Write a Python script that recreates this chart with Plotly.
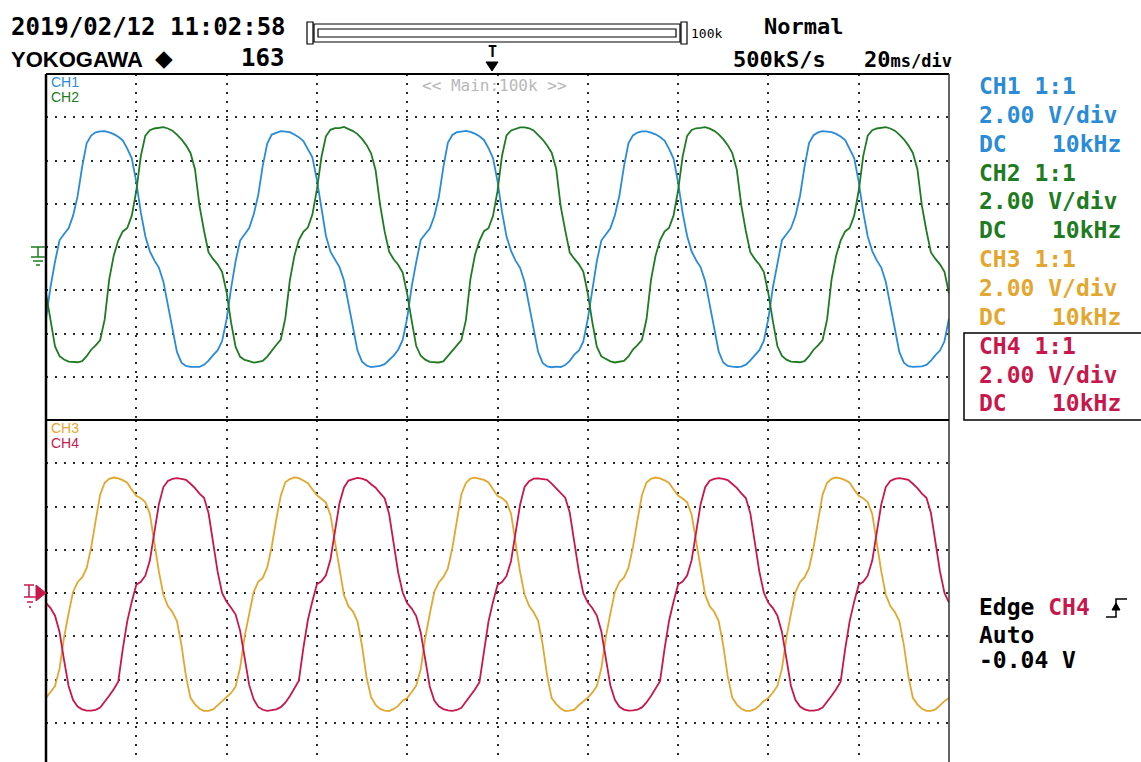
import plotly.graph_objects as go

# sample times, 1 ms steps across 10 div x 20 ms/div
t_ms = list(range(0, 201))

# CH1 (V)
ch1_v = [
    -3.3, -1.85, -0.68, 0.31, 0.6, 0.87, 1.45, 2.35, 3.7, 4.8,
    5.15, 5.3, 5.35, 5.36, 5.3, 5.22, 5.1, 4.93, 4.55, 4.1,
    3.0, 1.6, 0.5, -0.2, -0.62, -0.95, -1.6, -2.7, -3.9, -4.85,
    -5.35, -5.5, -5.54, -5.54, -5.54, -5.45, -5.25, -5.0, -4.78, -4.35,
    -3.35, -1.9, -0.65, 0.3, 0.62, 0.88, 1.5, 2.4, 3.75, 4.78,
    5.2, 5.28, 5.36, 5.34, 5.31, 5.2, 5.08, 4.9, 4.5, 4.15,
    3.1, 1.7, 0.52, -0.22, -0.6, -0.93, -1.55, -2.65, -3.85, -4.8,
    -5.3, -5.48, -5.55, -5.52, -5.5, -5.42, -5.22, -5.02, -4.75, -4.3,
    -3.28, -1.82, -0.7, 0.33, 0.6, 0.85, 1.42, 2.3, 3.68, 4.82,
    5.18, 5.31, 5.34, 5.37, 5.32, 5.24, 5.12, 4.95, 4.57, 4.12,
    3.05, 1.62, 0.48, -0.18, -0.63, -0.96, -1.62, -2.72, -3.92, -4.86,
    -5.36, -5.52, -5.56, -5.53, -5.55, -5.46, -5.27, -4.98, -4.8, -4.38,
    -3.32, -1.88, -0.66, 0.3, 0.61, 0.86, 1.47, 2.38, 3.72, 4.79,
    5.16, 5.29, 5.35, 5.35, 5.29, 5.21, 5.09, 4.92, 4.54, 4.08,
    2.98, 1.58, 0.51, -0.21, -0.61, -0.94, -1.58, -2.68, -3.88, -4.84,
    -5.34, -5.5, -5.53, -5.55, -5.53, -5.44, -5.24, -5.01, -4.77, -4.33,
    -3.31, -1.86, -0.69, 0.32, 0.59, 0.87, 1.44, 2.36, 3.71, 4.81,
    5.17, 5.3, 5.36, 5.35, 5.31, 5.23, 5.11, 4.94, 4.56, 4.11,
    3.02, 1.61, 0.49, -0.19, -0.62, -0.95, -1.61, -2.71, -3.91, -4.85,
    -5.35, -5.51, -5.54, -5.54, -5.52, -5.45, -5.26, -5.0, -4.79, -4.36,
    -3.3,
]

# CH2 (V)
ch2_v = [
    -2.15, -3.45, -4.6, -5.05, -5.2, -5.3, -5.33, -5.33, -5.28, -5.05,
    -4.75, -4.55, -4.3, -3.35, -1.5, -0.4, 0.3, 0.72, 0.88, 1.45,
    2.6, 4.2, 5.15, 5.4, 5.48, 5.52, 5.54, 5.48, 5.38, 5.2,
    4.98, 4.7, 4.35, 3.6, 1.9, 0.75, -0.25, -0.55, -0.8, -1.15,
    -2.1, -3.5, -4.62, -5.08, -5.22, -5.28, -5.35, -5.31, -5.27, -5.07,
    -4.78, -4.53, -4.28, -3.3, -1.55, -0.42, 0.32, 0.7, 0.9, 1.5,
    2.65, 4.15, 5.12, 5.42, 5.5, 5.5, 5.55, 5.46, 5.36, 5.22,
    5.0, 4.72, 4.33, 3.55, 1.95, 0.72, -0.22, -0.57, -0.82, -1.18,
    -2.18, -3.42, -4.58, -5.03, -5.21, -5.31, -5.32, -5.34, -5.29, -5.04,
    -4.76, -4.56, -4.31, -3.38, -1.48, -0.38, 0.28, 0.73, 0.87, 1.43,
    2.58, 4.22, 5.16, 5.39, 5.47, 5.53, 5.53, 5.49, 5.39, 5.19,
    4.97, 4.69, 4.36, 3.62, 1.88, 0.77, -0.26, -0.54, -0.79, -1.14,
    -2.14, -3.47, -4.61, -5.06, -5.19, -5.29, -5.34, -5.32, -5.27, -5.06,
    -4.74, -4.54, -4.29, -3.34, -1.52, -0.41, 0.31, 0.71, 0.89, 1.46,
    2.62, 4.18, 5.14, 5.41, 5.49, 5.51, 5.54, 5.47, 5.37, 5.21,
    4.99, 4.71, 4.34, 3.58, 1.92, 0.74, -0.24, -0.56, -0.81, -1.16,
    -2.16, -3.44, -4.59, -5.04, -5.21, -5.3, -5.33, -5.33, -5.28, -5.05,
    -4.75, -4.55, -4.3, -3.36, -1.49, -0.4, 0.3, 0.72, 0.88, 1.45,
    2.6, 4.2, 5.15, 5.4, 5.48, 5.52, 5.54, 5.48, 5.38, 5.2,
    4.98, 4.7, 4.35, 3.6, 1.9, 0.75, -0.25, -0.55, -0.8, -1.15,
    -2.15,
]

# CH3 (V)
ch3_v = [
    -4.85, -4.6, -4.3, -3.5, -2.05, -0.95, 0.05, 0.5, 0.72, 1.15,
    2.1, 3.35, 4.55, 5.1, 5.28, 5.34, 5.3, 5.22, 5.1, 4.78,
    4.5, 4.38, 4.2, 3.65, 2.3, 1.0, -0.08, -0.6, -0.88, -1.3,
    -2.4, -3.85, -4.85, -5.15, -5.35, -5.45, -5.45, -5.38, -5.2, -5.0,
    -4.82, -4.62, -4.32, -3.45, -2.0, -0.9, 0.04, 0.52, 0.7, 1.18,
    2.15, 3.4, 4.5, 5.12, 5.27, 5.35, 5.31, 5.2, 5.08, 4.8,
    4.52, 4.36, 4.18, 3.6, 2.35, 1.02, -0.1, -0.62, -0.86, -1.32,
    -2.45, -3.9, -4.82, -5.18, -5.36, -5.44, -5.46, -5.36, -5.22, -4.98,
    -4.86, -4.58, -4.28, -3.52, -2.08, -0.97, 0.06, 0.49, 0.73, 1.13,
    2.08, 3.33, 4.57, 5.09, 5.29, 5.33, 5.29, 5.23, 5.11, 4.77,
    4.49, 4.39, 4.21, 3.67, 2.28, 0.98, -0.07, -0.59, -0.89, -1.29,
    -2.38, -3.83, -4.86, -5.14, -5.34, -5.46, -5.44, -5.39, -5.19, -5.01,
    -4.84, -4.61, -4.31, -3.48, -2.03, -0.94, 0.05, 0.51, 0.71, 1.16,
    2.12, 3.37, 4.53, 5.11, 5.28, 5.34, 5.3, 5.21, 5.09, 4.79,
    4.51, 4.37, 4.19, 3.63, 2.32, 1.01, -0.09, -0.61, -0.87, -1.31,
    -2.42, -3.87, -4.84, -5.16, -5.35, -5.45, -5.45, -5.37, -5.21, -4.99,
    -4.85, -4.6, -4.3, -3.5, -2.05, -0.95, 0.05, 0.5, 0.72, 1.15,
    2.1, 3.35, 4.55, 5.1, 5.28, 5.34, 5.3, 5.22, 5.1, 4.78,
    4.5, 4.38, 4.2, 3.65, 2.3, 1.0, -0.08, -0.6, -0.88, -1.3,
    -2.4, -3.85, -4.85, -5.15, -5.35, -5.45, -5.45, -5.38, -5.2, -5.0,
    -4.85,
]

# CH4 (V), trigger source
ch4_v = [
    -0.45, -0.7, -1.05, -1.8, -3.1, -4.3, -4.95, -5.25, -5.38, -5.44,
    -5.44, -5.4, -5.3, -5.05, -4.75, -4.45, -4.1, -2.6, -1.3, -0.4,
    0.38, 0.52, 0.8, 1.5, 2.9, 4.1, 4.9, 5.18, 5.28, 5.31,
    5.28, 5.23, 5.05, 4.85, 4.6, 4.4, 3.7, 2.3, 1.0, 0.0,
    -0.4, -0.68, -1.0, -1.75, -3.05, -4.25, -4.92, -5.27, -5.4, -5.45,
    -5.42, -5.38, -5.28, -5.07, -4.77, -4.43, -4.05, -2.55, -1.25, -0.38,
    0.4, 0.54, 0.82, 1.55, 2.95, 4.15, 4.88, 5.2, 5.27, 5.32,
    5.29, 5.21, 5.03, 4.87, 4.62, 4.38, 3.65, 2.25, 0.95, 0.02,
    -0.47, -0.72, -1.07, -1.83, -3.12, -4.32, -4.97, -5.24, -5.37, -5.43,
    -5.45, -5.41, -5.31, -5.04, -4.74, -4.46, -4.12, -2.62, -1.32, -0.42,
    0.37, 0.51, 0.79, 1.48, 2.88, 4.08, 4.91, 5.17, 5.29, 5.3,
    5.27, 5.24, 5.06, 4.84, 4.59, 4.41, 3.72, 2.32, 1.02, -0.01,
    -0.44, -0.69, -1.04, -1.78, -3.08, -4.28, -4.94, -5.26, -5.39, -5.44,
    -5.43, -5.39, -5.29, -5.06, -4.76, -4.44, -4.08, -2.58, -1.28, -0.39,
    0.39, 0.53, 0.81, 1.52, 2.92, 4.12, 4.89, 5.19, 5.28, 5.31,
    5.28, 5.22, 5.04, 4.86, 4.61, 4.39, 3.68, 2.28, 0.98, 0.01,
    -0.45, -0.7, -1.05, -1.8, -3.1, -4.3, -4.95, -5.25, -5.38, -5.44,
    -5.44, -5.4, -5.3, -5.05, -4.75, -4.45, -4.1, -2.6, -1.3, -0.4,
    0.38, 0.52, 0.8, 1.5, 2.9, 4.1, 4.9, 5.18, 5.28, 5.31,
    5.28, 5.23, 5.05, 4.85, 4.6, 4.4, 3.7, 2.3, 1.0, 0.0,
    -0.45,
]

BLUE = "#2a8bd8"
GREEN = "#1e7b22"
ORANGE = "#e3a72f"
RED = "#c8174c"
MONO = "DejaVu Sans Mono"
SANS = "Liberation Sans"

# screen geometry in page pixels
L, R, T, B = 46, 949, 74, 762
W, H = R - L, B - T
SPLIT = (B - 420) / H          # lower screen takes what is left below the divider
PX_PER_V = 43.25 / 2.0
Y2_MIN = 8 - (B - 420) / PX_PER_V


def px(x):
    return (x - L) / W


def py(y):
    return (B - y) / H


fig = go.Figure()
fig.add_trace(go.Scatter(x=t_ms, y=ch1_v, mode="lines", line=dict(color=BLUE, width=1.8),
                         xaxis="x", yaxis="y", hoverinfo="skip"))
fig.add_trace(go.Scatter(x=t_ms, y=ch2_v, mode="lines", line=dict(color=GREEN, width=1.8),
                         xaxis="x", yaxis="y", hoverinfo="skip"))
fig.add_trace(go.Scatter(x=t_ms, y=ch3_v, mode="lines", line=dict(color=ORANGE, width=1.8),
                         xaxis="x", yaxis="y2", hoverinfo="skip"))
fig.add_trace(go.Scatter(x=t_ms, y=ch4_v, mode="lines", line=dict(color=RED, width=1.8),
                         xaxis="x", yaxis="y2", hoverinfo="skip"))

grid = dict(showgrid=True, gridcolor="#2a2a2a", gridwidth=2, griddash="2px,7px",
            showticklabels=False, ticks="", zeroline=False, showline=False, fixedrange=True)

fig.update_layout(
    width=1141, height=762,
    paper_bgcolor="white", plot_bgcolor="white",
    margin=dict(l=L, r=1141 - R, t=T, b=0),
    showlegend=False,
    xaxis=dict(range=[0, 200], tick0=0, dtick=20, anchor="y", **grid),
    yaxis=dict(domain=[SPLIT, 1], range=[-8, 8], tick0=0, dtick=2, anchor="x", **grid),
    yaxis2=dict(domain=[0, SPLIT], range=[Y2_MIN, 8], tick0=0, dtick=2, anchor="x", **grid),
)

shapes = []


def line(x0, y0, x1, y1, color="black", width=2):
    shapes.append(dict(type="line", xref="paper", yref="paper",
                       x0=px(x0), y0=py(y0), x1=px(x1), y1=py(y1),
                       line=dict(color=color, width=width)))


def rect(x0, y0, x1, y1, color="black", width=1, fill="rgba(0,0,0,0)"):
    shapes.append(dict(type="rect", xref="paper", yref="paper",
                       x0=px(x0), y0=py(y0), x1=px(x1), y1=py(y1),
                       line=dict(color=color, width=width), fillcolor=fill))


def path(points, color, fill=None, width=1.5):
    d = "M " + " L ".join(f"{px(x)},{py(y)}" for x, y in points)
    if fill:
        d += " Z"
    shapes.append(dict(type="path", xref="paper", yref="paper", path=d,
                       line=dict(color=color, width=width),
                       fillcolor=fill if fill else "rgba(0,0,0,0)"))


# screen frame
line(L, T, L, B + 5, width=2.5)
line(L, T, R, T, width=2)
line(R, T, R, B + 5, color="#333", width=1.5)
line(L, 420, R, 420, width=2)

# record-length bar
rect(307, 22, 313, 44, width=1.2)
rect(681, 22, 687, 44, width=1.2)
rect(314, 24, 680, 42, width=1.2)
rect(318, 29, 676, 37, width=1.2)

# trigger position marker on top
path([(486, 62), (498, 62), (492, 71)], "black", fill="black", width=1)

# ground marker, upper screen
line(38, 247, 38, 257, color=GREEN, width=1.5)
line(31, 247, 45, 247, color=GREEN, width=1.5)
line(31, 257, 45, 257, color=GREEN, width=1.5)
line(33, 261, 43, 261, color=GREEN, width=1.5)
line(36, 265, 40, 265, color=GREEN, width=1.5)

# trigger level and ground marker, lower screen
path([(36, 585), (46, 593), (36, 601)], RED, fill=RED, width=1)
line(24, 585, 34, 585, color=RED, width=1.5)
line(29, 585, 29, 597, color=RED, width=1.5)
line(24, 597, 36, 597, color=RED, width=1.5)
line(27, 602, 33, 602, color=RED, width=1.5)
line(29, 607, 31, 607, color=RED, width=1.5)

# CH4 settings box
rect(964, 333, 1150, 420, width=1.5)

# edge trigger glyph
path([(1106, 617), (1116, 617), (1116, 599), (1127, 599)], "black", width=1.5)
path([(1112, 610), (1116, 603), (1120, 610)], "black", fill="black", width=1)

fig.update_layout(shapes=shapes)

ann = []


def text(x, y, s, size=23, color="black", family=MONO, anchor="left", bold=False):
    if bold:
        s = f"<b>{s}</b>"
    ann.append(dict(x=px(x), y=py(y), xref="paper", yref="paper", text=s,
                    showarrow=False, xanchor=anchor, yanchor="middle",
                    font=dict(family=family, size=size, color=color)))


# header
text(9, 27, "2019/02/12 11:02:58", size=24, bold=True)
text(9, 59, "YOKOGAWA", size=22, family=SANS, bold=True)
text(153, 58, "◆", size=23, family="DejaVu Sans")
text(286, 58, "163", size=24, anchor="right", bold=True)
text(689, 33, "100k", size=13)
text(762, 27, "Normal", size=22, bold=True)
text(731, 60, "500kS/s", size=22, bold=True)
text(862, 60, "20<span style='font-size:17px'>ms/div</span>", size=22, bold=True)
text(486, 52, "T", size=15, bold=True)
text(420, 85, "<< Main:100k >>", size=16, color="#b8b8b8")

# channel tags inside the screens
text(49, 82, "CH1", size=14, color=BLUE, family=SANS)
text(49, 97, "CH2", size=14, color=GREEN, family=SANS)
text(49, 428, "CH3", size=14, color=ORANGE, family=SANS)
text(49, 443, "CH4", size=14, color=RED, family=SANS)

# channel settings column
rows = [("CH1", BLUE), ("CH2", GREEN), ("CH3", ORANGE), ("CH4", RED)]
y0 = 86
for i, (name, col) in enumerate(rows):
    yb = y0 + i * 86.6
    text(977, yb, f"{name} 1:1", color=col, bold=True)
    text(977, yb + 28.8, "2.00 V/div", color=col, bold=True)
    text(977, yb + 57.6, "DC", color=col, bold=True)
    text(1123, yb + 57.6, "10kHz", color=col, anchor="right", bold=True)

# trigger settings
text(977, 607, "Edge <span style='color:%s'>CH4</span>" % RED, bold=True)
text(977, 635, "Auto", bold=True)
text(977, 660, "-0.04 V", bold=True)

fig.update_layout(annotations=ann)

fig.write_html("out.html", config={"displayModeBar": False},
               post_script="document.body.style.margin='0';")
